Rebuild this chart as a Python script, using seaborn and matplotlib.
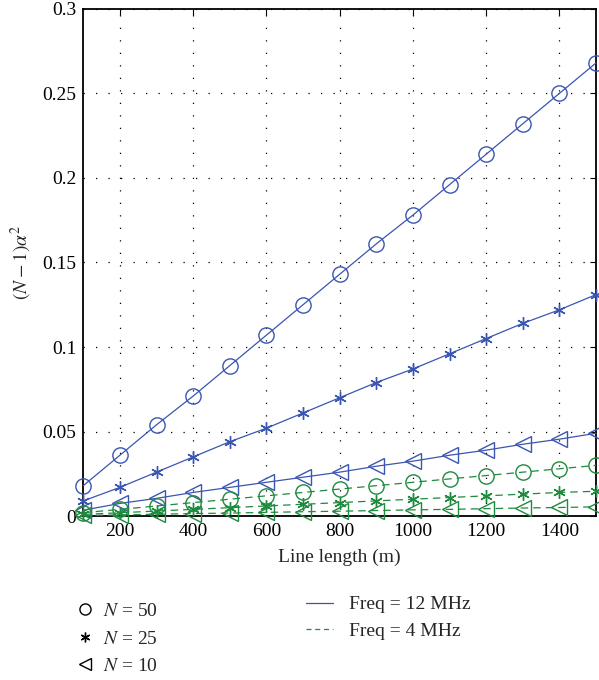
import matplotlib
matplotlib.use("Agg")
import matplotlib.pyplot as plt
from matplotlib.lines import Line2D
import seaborn as sns

# values
length_m = [100, 200, 300, 400, 500, 600, 700, 800, 900, 1000, 1100, 1200, 1300, 1400, 1500]

n50_12mhz = [0.018, 0.036, 0.054, 0.071, 0.089, 0.107, 0.125, 0.143, 0.161, 0.178,
             0.196, 0.214, 0.232, 0.250, 0.268]
n25_12mhz = [0.009, 0.017, 0.026, 0.035, 0.044, 0.052, 0.061, 0.070, 0.079, 0.087,
             0.096, 0.105, 0.114, 0.122, 0.131]
n10_12mhz = [0.0035, 0.0075, 0.0105, 0.014, 0.017, 0.020, 0.023, 0.026, 0.0295, 0.0325,
             0.036, 0.039, 0.0425, 0.0455, 0.049]
n50_4mhz = [0.002, 0.004, 0.006, 0.008, 0.010, 0.012, 0.014, 0.016, 0.018, 0.020,
            0.022, 0.024, 0.026, 0.028, 0.030]
n25_4mhz = [0.001, 0.002, 0.003, 0.004, 0.005, 0.006, 0.007, 0.008, 0.009, 0.010,
            0.011, 0.012, 0.013, 0.014, 0.0147]
n10_4mhz = [0.0004, 0.0007, 0.0011, 0.0015, 0.0018, 0.0022, 0.0026, 0.0029, 0.0033, 0.0037,
            0.0040, 0.0044, 0.0048, 0.0051, 0.0055]

x_ticks = [200, 400, 600, 800, 1000, 1200, 1400]
y_ticks = [0, 0.05, 0.1, 0.15, 0.2, 0.25, 0.3]
y_tick_labels = ["0", "0.05", "0.1", "0.15", "0.2", "0.25", "0.3"]

n_labels = ["$N$ = 50", "$N$ = 25", "$N$ = 10"]
freq_labels = ["Freq = 12 MHz", "Freq = 4 MHz"]

sns.set_style("white")
plt.rcParams["font.family"] = ["Liberation Serif", "DejaVu Serif"]
plt.rcParams["mathtext.fontset"] = "stix"

blue = "#3a56b0"
green = "#1e8a3e"
dashed = (0, (6, 4))
asterisk = (6, 2, 0)
markers = ["o", asterisk, "<"]

fig = plt.figure(figsize=(5.99, 6.80), dpi=100)
ax = fig.add_axes([0.139, 0.241, 0.856, 0.746])

series = [
    (n50_12mhz, blue, "-", 0), (n25_12mhz, blue, "-", 1), (n10_12mhz, blue, "-", 2),
    (n50_4mhz, green, dashed, 0), (n25_4mhz, green, dashed, 1), (n10_4mhz, green, dashed, 2),
]
for vals, col, ls, mi in series:
    m = markers[mi]
    ms = 9 if mi == 1 else 11
    sns.lineplot(x=length_m, y=vals, ax=ax, color=col, linestyle=ls, linewidth=0.9,
                 marker=m, markersize=ms, markerfacecolor="none", markeredgecolor=col,
                 markeredgewidth=1.0, clip_on=False, zorder=3)

ax.set_xlim(100, 1500)
ax.set_ylim(0, 0.3)
ax.set_xticks(x_ticks)
ax.set_yticks(y_ticks)
ax.set_yticklabels(y_tick_labels)
ax.tick_params(direction="in", top=True, right=True, length=4, width=0.8,
               labelsize=14, colors="black", pad=5)
ax.grid(True, color="black", linestyle=(0, (1, 9)), linewidth=0.9)
for sp in ax.spines.values():
    sp.set_color("black")
    sp.set_linewidth(1.3)

ax.set_xlabel("Line length (m)", fontsize=14, labelpad=6)
ax.set_ylabel(r"$(N-1)\alpha^2$", fontsize=14, labelpad=6)

# marker legend (left) and line-style legend (right), below the axes
n_handles = [Line2D([], [], color="black", linestyle="none", marker=m,
                    markersize=7 if i == 1 else 8, markerfacecolor="none",
                    markeredgewidth=1.0) for i, m in enumerate(markers)]
leg1 = fig.legend(n_handles, n_labels, loc="upper left", bbox_to_anchor=(0.113, 0.128),
                  frameon=False, fontsize=14, handlelength=0.8, handletextpad=0.5,
                  labelspacing=0.5, borderpad=0)
f_handles = [Line2D([], [], color=blue, linestyle="-", linewidth=0.9),
             Line2D([], [], color=green, linestyle=(0, (4, 3)), linewidth=0.9)]
leg2 = fig.legend(f_handles, freq_labels, loc="upper left", bbox_to_anchor=(0.495, 0.138),
                  frameon=False, fontsize=14, handlelength=1.4, handletextpad=0.8,
                  labelspacing=0.45, borderpad=0)

fig.savefig("out.png", dpi=100)
